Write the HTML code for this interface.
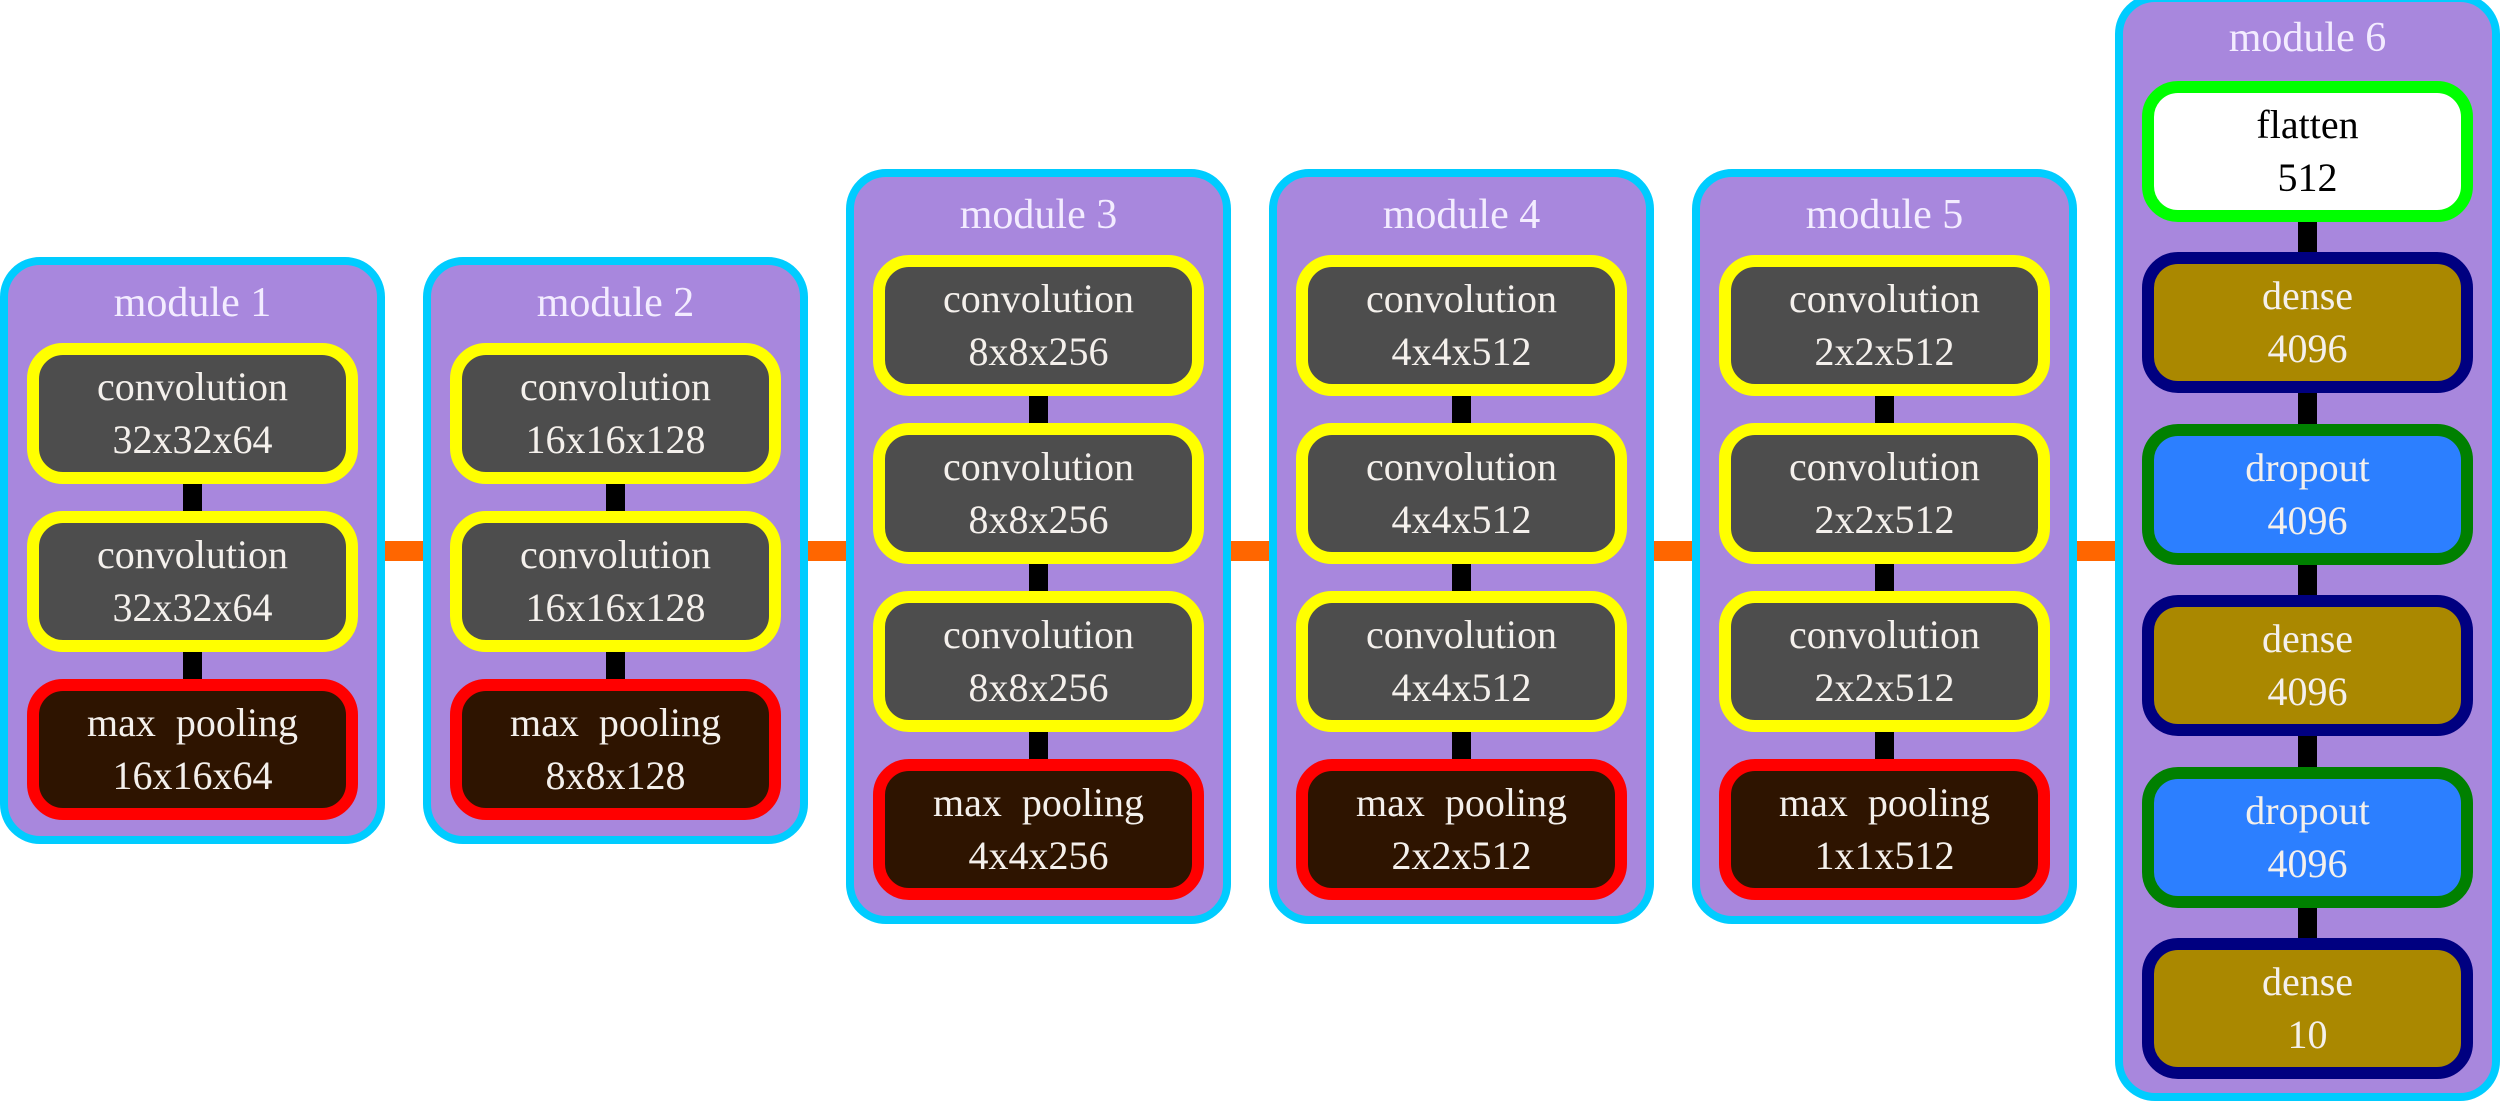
<!DOCTYPE html>
<html><head><meta charset="utf-8"><style>
body{margin:0;width:2500px;height:1102px;position:relative;overflow:hidden;background:#fff;font-family:"Liberation Serif",serif}
.m{position:absolute;box-sizing:border-box;width:385px;border:8px solid #00ccff;border-radius:40px;background:#a887dd}
.t{position:absolute;width:385px;text-align:center;font-size:42px;line-height:42px;color:#f3ecff}
.n{position:absolute;box-sizing:border-box;width:331px;height:141px;border:12px solid;border-radius:36px;text-align:center;font-size:40px;line-height:53px;color:#f4f0ec;padding-top:5px}
.c{background:#4d4d4d;border-color:#ffff00}
.p{background:#2e1400;border-color:#ff0000}
.f{background:#fff;border-color:#00ff00;color:#000}
.d{background:#aa8800;border-color:#000080}
.o{background:#2c7fff;border-color:#008000}
.k{position:absolute;width:19px;background:#000}
.h{position:absolute;height:20px;top:541px;background:#ff6600}
</style></head><body>
<div class="h" style="left:380px;width:48px"></div>
<div class="h" style="left:803px;width:48px"></div>
<div class="h" style="left:1226px;width:48px"></div>
<div class="h" style="left:1649px;width:48px"></div>
<div class="h" style="left:2072px;width:48px"></div>

<!-- module 1 -->
<div class="m" style="left:0;top:257px;height:587px"></div>
<div class="t" style="left:0;top:282px">module 1</div>
<div class="k" style="left:183px;top:480px;height:35px"></div>
<div class="k" style="left:183px;top:648px;height:35px"></div>
<div class="n c" style="left:27px;top:343px">convolution<br>32x32x64</div>
<div class="n c" style="left:27px;top:511px">convolution<br>32x32x64</div>
<div class="n p" style="left:27px;top:679px">max&nbsp; pooling<br>16x16x64</div>

<!-- module 2 -->
<div class="m" style="left:423px;top:257px;height:587px"></div>
<div class="t" style="left:423px;top:282px">module 2</div>
<div class="k" style="left:606px;top:480px;height:35px"></div>
<div class="k" style="left:606px;top:648px;height:35px"></div>
<div class="n c" style="left:450px;top:343px">convolution<br>16x16x128</div>
<div class="n c" style="left:450px;top:511px">convolution<br>16x16x128</div>
<div class="n p" style="left:450px;top:679px">max&nbsp; pooling<br>8x8x128</div>

<!-- module 3 -->
<div class="m" style="left:846px;top:169px;height:755px"></div>
<div class="t" style="left:846px;top:194px">module 3</div>
<div class="k" style="left:1029px;top:392px;height:35px"></div>
<div class="k" style="left:1029px;top:560px;height:35px"></div>
<div class="k" style="left:1029px;top:728px;height:35px"></div>
<div class="n c" style="left:873px;top:255px">convolution<br>8x8x256</div>
<div class="n c" style="left:873px;top:423px">convolution<br>8x8x256</div>
<div class="n c" style="left:873px;top:591px">convolution<br>8x8x256</div>
<div class="n p" style="left:873px;top:759px">max&nbsp; pooling<br>4x4x256</div>

<!-- module 4 -->
<div class="m" style="left:1269px;top:169px;height:755px"></div>
<div class="t" style="left:1269px;top:194px">module 4</div>
<div class="k" style="left:1452px;top:392px;height:35px"></div>
<div class="k" style="left:1452px;top:560px;height:35px"></div>
<div class="k" style="left:1452px;top:728px;height:35px"></div>
<div class="n c" style="left:1296px;top:255px">convolution<br>4x4x512</div>
<div class="n c" style="left:1296px;top:423px">convolution<br>4x4x512</div>
<div class="n c" style="left:1296px;top:591px">convolution<br>4x4x512</div>
<div class="n p" style="left:1296px;top:759px">max&nbsp; pooling<br>2x2x512</div>

<!-- module 5 -->
<div class="m" style="left:1692px;top:169px;height:755px"></div>
<div class="t" style="left:1692px;top:194px">module 5</div>
<div class="k" style="left:1875px;top:392px;height:35px"></div>
<div class="k" style="left:1875px;top:560px;height:35px"></div>
<div class="k" style="left:1875px;top:728px;height:35px"></div>
<div class="n c" style="left:1719px;top:255px">convolution<br>2x2x512</div>
<div class="n c" style="left:1719px;top:423px">convolution<br>2x2x512</div>
<div class="n c" style="left:1719px;top:591px">convolution<br>2x2x512</div>
<div class="n p" style="left:1719px;top:759px">max&nbsp; pooling<br>1x1x512</div>

<!-- module 6 -->
<div class="m" style="left:2115px;top:-6px;height:1107px"></div>
<div class="t" style="left:2115px;top:17px">module 6</div>
<div class="k" style="left:2298px;top:218px;height:38px"></div>
<div class="k" style="left:2298px;top:389px;height:38px"></div>
<div class="k" style="left:2298px;top:561px;height:38px"></div>
<div class="k" style="left:2298px;top:732px;height:38px"></div>
<div class="k" style="left:2298px;top:904px;height:38px"></div>
<div class="n f" style="left:2142px;top:81px">flatten<br>512</div>
<div class="n d" style="left:2142px;top:252px">dense<br>4096</div>
<div class="n o" style="left:2142px;top:424px">dropout<br>4096</div>
<div class="n d" style="left:2142px;top:595px">dense<br>4096</div>
<div class="n o" style="left:2142px;top:767px">dropout<br>4096</div>
<div class="n d" style="left:2142px;top:938px">dense<br>10</div>
</body></html>
